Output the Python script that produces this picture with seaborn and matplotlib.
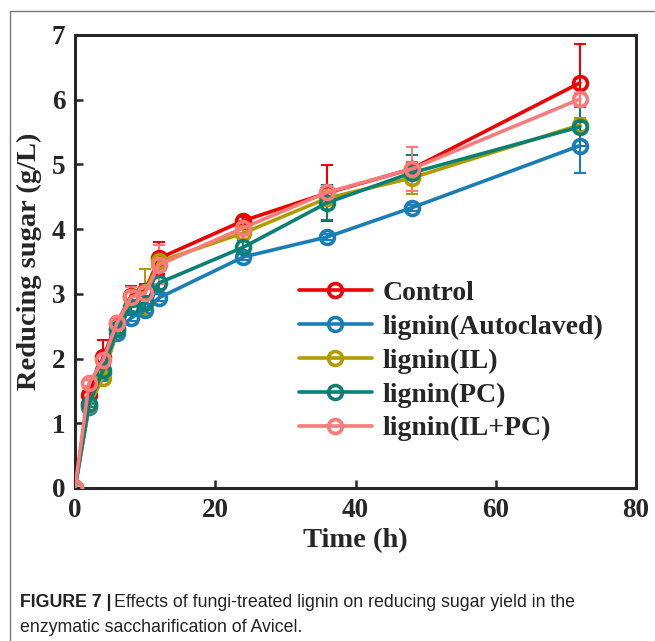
import pandas as pd
import matplotlib
matplotlib.use("Agg")
import matplotlib.pyplot as plt
import seaborn as sns

# time points (h)
time = [0, 2, 4, 6, 8, 10, 12, 24, 36, 48, 72]

# mean reducing sugar (g/L)
control = [0, 1.44, 2.02, 2.55, 2.97, 3.05, 3.55, 4.13, 4.56, 4.93, 6.26]
autoclaved = [0, 1.25, 1.78, 2.40, 2.63, 2.75, 2.94, 3.57, 3.88, 4.33, 5.29]
il = [0, 1.28, 1.70, 2.45, 2.95, 3.03, 3.50, 3.94, 4.48, 4.79, 5.61]
pc = [0, 1.30, 1.82, 2.45, 2.80, 2.86, 3.17, 3.72, 4.41, 4.87, 5.58]
ilpc = [0, 1.62, 1.98, 2.55, 2.95, 3.01, 3.45, 4.02, 4.57, 4.93, 6.01]

# standard deviations
control_err = [0, 0.05, 0.27, 0.08, 0.15, 0.10, 0.25, 0.05, 0.43, 0.10, 0.60]
autoclaved_err = [0, 0.05, 0.05, 0.05, 0.05, 0.05, 0.05, 0.05, 0.05, 0.05, 0.43]
il_err = [0, 0.10, 0.05, 0.05, 0.10, 0.35, 0.10, 0.10, 0.10, 0.25, 0.10]
pc_err = [0, 0.05, 0.05, 0.05, 0.10, 0.10, 0.10, 0.10, 0.27, 0.28, 0.30]
ilpc_err = [0, 0.05, 0.10, 0.05, 0.15, 0.10, 0.30, 0.10, 0.10, 0.34, 0.10]

labels = ["Control", "lignin(Autoclaved)", "lignin(IL)", "lignin(PC)", "lignin(IL+PC)"]
colors = ["#ee0000", "#1a7db4", "#b09c00", "#0a8074", "#fb7a7a"]

means = [control, autoclaved, il, pc, ilpc]
errs = [control_err, autoclaved_err, il_err, pc_err, ilpc_err]

rows = []
for lab, m, e in zip(labels, means, errs):
    for t, v, s in zip(time, m, e):
        rows.append({"Time": t, "Sugar": v, "Err": s, "Group": lab})
df = pd.DataFrame(rows)

sns.set_style("ticks")
plt.rcParams["font.family"] = ["Liberation Serif", "DejaVu Serif"]
plt.rcParams["font.weight"] = "bold"

fig = plt.figure(figsize=(6.55, 6.41), dpi=100)
ax = fig.add_axes([0.1145, 0.2387, 0.8565, 0.7067])

for lab, col in zip(labels, colors):
    d = df[df["Group"] == lab]
    ax.errorbar(d["Time"], d["Sugar"], yerr=d["Err"], fmt="none", ecolor=col,
                elinewidth=1.5, capsize=4, capthick=1.5, zorder=2)
    sns.lineplot(data=d, x="Time", y="Sugar", color=col, label=lab,
                 marker="o", markersize=13.5, markerfacecolor="none",
                 markeredgecolor=col, markeredgewidth=2.6, linewidth=2.6,
                 ax=ax, zorder=3)

ax.set_xlim(0, 80)
ax.set_ylim(0, 7)
ax.set_xticks([0, 20, 40, 60, 80])
ax.set_yticks(range(0, 8))
ax.tick_params(direction="in", length=6, width=1.8, labelsize=19.5, pad=7)
for lbl in ax.get_xticklabels() + ax.get_yticklabels():
    lbl.set_fontweight("bold")
for sp in ax.spines.values():
    sp.set_linewidth(2.2)
    sp.set_visible(True)

ax.set_xlabel("Time (h)", fontsize=20.5, fontweight="bold", labelpad=4)
ax.set_ylabel("Reducing sugar (g/L)", fontsize=20.5, fontweight="bold", labelpad=7)

handles, _ = ax.get_legend_handles_labels()
for h, col in zip(handles, colors):
    h.set_markersize(10)
leg = ax.legend(handles, labels, loc="upper left", bbox_to_anchor=(0.38, 0.482),
                frameon=False, fontsize=20, handlelength=2.6, handletextpad=0.4,
                labelspacing=0.3, borderaxespad=0)
for t in leg.get_texts():
    t.set_fontweight("bold")

# page border lines
fig.add_artist(plt.Line2D([10 / 655, 10 / 655], [0, 1 - 11 / 641], color="#777777", lw=1))
fig.add_artist(plt.Line2D([10 / 655, 1], [1 - 11 / 641, 1 - 11 / 641], color="#777777", lw=1))

cap_font = ["Liberation Sans Narrow", "Liberation Sans", "DejaVu Sans"]
head = fig.text(20 / 655, 1 - 607 / 641, "FIGURE 7 |", fontsize=12.8, fontweight="bold",
                family=cap_font, color="#222222")
fig.canvas.draw()
bb = head.get_window_extent(renderer=fig.canvas.get_renderer())
fig.text((bb.x1 + 3) / 655, 1 - 607 / 641,
         "Effects of fungi-treated lignin on reducing sugar yield in the",
         fontsize=12.8, fontweight="normal", family=cap_font, color="#222222")
fig.text(20 / 655, 1 - 632 / 641, "enzymatic saccharification of Avicel.",
         fontsize=12.8, fontweight="normal", family=cap_font, color="#222222")

fig.savefig("out.png", dpi=100)
